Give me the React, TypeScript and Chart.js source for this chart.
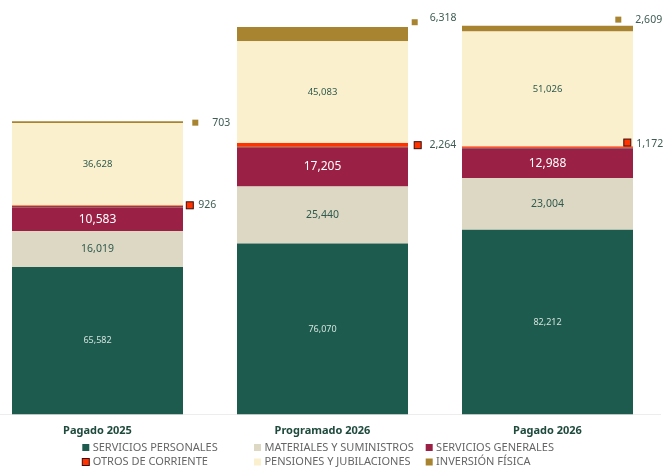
import React, { useEffect, useRef } from 'react';
import { Chart, registerables } from 'chart.js';

Chart.register(...registerables);

const categories = ['Pagado 2025', 'Programado 2026', 'Pagado 2026'];
const seriesNames = [
  'SERVICIOS PERSONALES',
  'MATERIALES Y SUMINISTROS',
  'SERVICIOS GENERALES',
  'OTROS DE CORRIENTE',
  'PENSIONES Y JUBILACIONES',
  'INVERSIÓN FÍSICA',
];
const serviciosPersonales = [65582, 76070, 82212];
const materialesSuministros = [16019, 25440, 23004];
const serviciosGenerales = [10583, 17205, 12988];
const otrosCorriente = [926, 2264, 1172];
const pensionesJubilaciones = [36628, 45083, 51026];
const inversionFisica = [703, 6318, 2609];
const yMax = 180000;

const seriesValues = [
  serviciosPersonales,
  materialesSuministros,
  serviciosGenerales,
  otrosCorriente,
  pensionesJubilaciones,
  inversionFisica,
];
const colors = ['#1e5b4f', '#ddd8c4', '#9b2045', '#ff3300', '#faf0cd', '#a88430'];

const FONT = '"Noto Sans", "Open Sans", sans-serif';
const SHIFT = 15; // canvas starts 15px left of page

// inside label styles per dataset (null = outside label)
const insideStyle: any[] = [
  { size: 9, color: '#d3e3dd', weight: 'normal' },
  { size: 10.5, color: '#2f5a4d', weight: 'normal' },
  { size: 12, color: '#ffffff', weight: 'normal' },
  null,
  { size: 9.5, color: '#2f5a4d', weight: 'normal' },
  null,
];
// outside label placement per dataset per category, relative to bar right edge / segment center
const outsideStyle: any = {
  3: { markerDx: [6.8, 9.7, -5.7], markerDy: [-1, 0, -5], textDx: [15.3, 21.4, 3.3], textDy: [-1, 0, -4], size: 7, border: '#3a0c0c' },
  5: { markerDx: [12.3, 6.7, -14.7], markerDy: [0.5, -12, -9], textDx: [29.3, 21.7, 2.3], textDy: [1, -16.5, -8.5], size: 6, border: null },
};

const legendCols = [82.3, 254, 425.7];
const legendRows = [447.5, 462];

const fmt = (v: number) => v.toLocaleString('en-US');

const labelsPlugin = {
  id: 'segLabels',
  afterDatasetsDraw(chart: any) {
    const ctx = chart.ctx;
    ctx.save();
    chart.data.datasets.forEach((ds: any, di: number) => {
      const meta = chart.getDatasetMeta(di);
      meta.data.forEach((el: any, i: number) => {
        const p = el.getProps(['x', 'y', 'base', 'width'], true);
        const v = seriesValues[di][i];
        const cy = (p.y + p.base) / 2;
        const st = insideStyle[di];
        if (st) {
          ctx.font = `${st.weight} ${st.size}px ${FONT}`;
          ctx.fillStyle = st.color;
          ctx.textAlign = 'center';
          ctx.textBaseline = 'middle';
          ctx.fillText(fmt(v), p.x, cy);
        } else {
          const o = outsideStyle[di];
          const right = p.x + p.width / 2;
          const mx = right + o.markerDx[i];
          const my = cy + o.markerDy[i];
          ctx.fillStyle = colors[di];
          ctx.fillRect(mx - o.size / 2, my - o.size / 2, o.size, o.size);
          if (o.border) {
            ctx.strokeStyle = o.border;
            ctx.lineWidth = 1;
            ctx.strokeRect(mx - o.size / 2, my - o.size / 2, o.size, o.size);
          }
          ctx.font = `normal 10.5px ${FONT}`;
          ctx.fillStyle = '#3e5c54';
          ctx.textAlign = 'left';
          ctx.textBaseline = 'middle';
          ctx.fillText(fmt(v), right + o.textDx[i], cy + o.textDy[i]);
        }
      });
    });
    ctx.restore();
  },
};

const legendPlugin = {
  id: 'gridLegend',
  afterDraw(chart: any) {
    const ctx = chart.ctx;
    ctx.save();
    ctx.font = `normal 11px ${FONT}`;
    ctx.textAlign = 'left';
    ctx.textBaseline = 'middle';
    seriesNames.forEach((name, k) => {
      const row = k < 3 ? 0 : 1;
      const col = k % 3;
      const x = legendCols[col] + SHIFT;
      const y = legendRows[row];
      ctx.fillStyle = colors[k];
      ctx.fillRect(x, y - 3.5, 7, 7);
      if (k === 3) {
        ctx.strokeStyle = '#3a0c0c';
        ctx.lineWidth = 1;
        ctx.strokeRect(x, y - 3.5, 7, 7);
      }
      ctx.fillStyle = '#666666';
      ctx.fillText(name, x + 10.4, y);
    });
    ctx.restore();
  },
};

export default function App() {
  const ref = useRef<HTMLCanvasElement | null>(null);
  useEffect(() => {
    if (!ref.current) return;
    const chart = new Chart(ref.current, {
      type: 'bar',
      data: {
        labels: categories,
        datasets: seriesNames.map((name, k) => ({
          label: name,
          data: seriesValues[k],
          backgroundColor: colors[k],
          borderColor: k === 3 ? '#3a0c0c' : colors[k],
          borderWidth: k === 3 ? { top: 0, left: 0, right: 0, bottom: 1 } : 0,
          borderSkipped: false,
          categoryPercentage: 1,
          barPercentage: 0.76,
        })),
      },
      options: {
        animation: false,
        responsive: true,
        maintainAspectRatio: false,
        layout: { padding: { top: 10, right: 3, left: 0, bottom: 0 } },
        plugins: {
          legend: { display: false },
          tooltip: { enabled: false },
        },
        scales: {
          x: {
            stacked: true,
            offset: true,
            grid: { display: false, drawTicks: false },
            border: { display: true, color: '#ededed', width: 1 },
            ticks: {
              font: { family: FONT, size: 11, weight: 'bold' },
              color: '#1f4a3d',
              padding: 10,
            },
            afterFit: (s: any) => {
              s.height = 52.5;
            },
          },
          y: {
            stacked: true,
            display: false,
            min: 0,
            max: yMax,
          },
        },
      },
      plugins: [labelsPlugin, legendPlugin],
    } as any);
    return () => chart.destroy();
  }, []);
  return (
    <div style={{ position: 'absolute', left: -SHIFT, top: 0, width: 663 + SHIFT, height: 467 }}>
      <canvas ref={ref} />
    </div>
  );
}
